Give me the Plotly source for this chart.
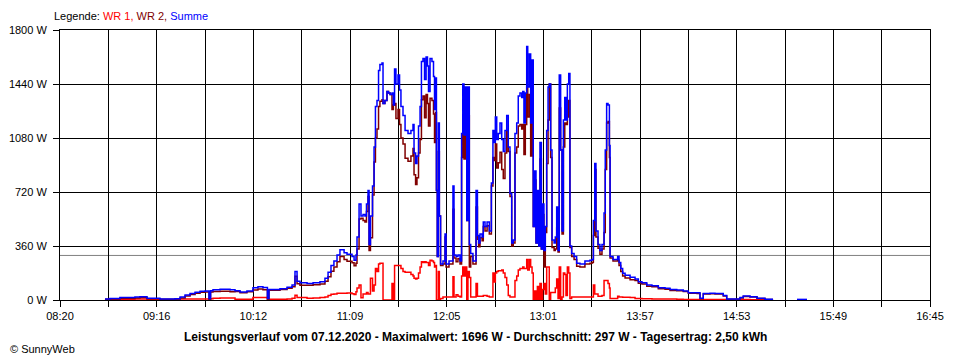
import plotly.graph_objects as go

# ---------------- data (times in minutes after midnight, 07.12.2020) ----------------
times = [
    526.1, 529.0, 534.8, 543.5, 546.4, 550.5, 558.0, 566.8, 569.7, 572.6,
    575.5, 578.4, 581.3, 584.2, 586.5, 587.4, 588.8, 592.9, 598.7, 601.6,
    604.5, 608.5, 612.0, 614.9, 617.8, 620.4, 621.3, 624.8, 627.7, 631.8,
    634.7, 636.4, 637.6, 639.3, 643.4, 646.9, 650.9, 653.8, 655.6, 657.3,
    659.0, 660.8, 662.5, 664.9, 666.6, 669.5, 670.7, 671.8, 672.4, 673.6,
    674.7, 675.9, 677.0, 677.9, 678.8, 679.4, 680.2, 681.4, 682.3, 683.1,
    684.0, 684.9, 685.7, 686.9, 687.5, 688.6, 689.8, 690.7, 691.6, 692.7,
    693.5, 694.2, 695.0, 696.2, 697.1, 697.9, 699.1, 700.3, 702.0, 703.7,
    704.9, 705.5, 706.4, 707.2, 708.1, 709.0, 709.8, 710.7, 711.6, 712.5,
    713.3, 713.9, 714.8, 715.9, 716.8, 717.4, 718.0, 718.5, 719.0, 719.6,
    720.2, 720.9, 722.3, 723.5, 724.1, 725.8, 728.1, 728.7, 729.9, 731.0,
    732.2, 733.1, 733.8, 734.5, 735.3, 736.1, 736.8, 737.6, 738.4, 739.7,
    741.5, 742.3, 743.0, 743.8, 745.0, 745.7, 746.7, 747.9, 749.2, 750.4,
    751.3, 751.9, 752.7, 753.5, 754.4, 755.4, 756.4, 757.3, 758.3, 759.3,
    760.2, 761.2, 762.2, 763.1, 764.1, 765.1, 766.0, 767.0, 768.0, 768.6,
    769.3, 770.1, 770.9, 771.5, 772.4, 773.2, 774.0, 774.7, 775.5, 776.3,
    777.1, 777.9, 778.6, 779.4, 780.1, 780.9, 781.7, 782.5, 783.3, 784.0,
    784.8, 785.6, 786.8, 787.5, 788.3, 789.1, 789.8, 790.6, 791.4, 792.2,
    793.0, 793.7, 794.5, 795.3, 796.0, 797.0, 798.4, 799.9, 801.8, 804.7,
    807.6, 808.8, 809.6, 810.4, 811.1, 812.3, 813.4, 814.6, 815.8, 816.5,
    817.3, 818.1, 818.9, 819.3, 821.0, 823.7, 824.5, 825.5, 826.6, 828.0,
    830.9, 833.8, 835.7, 837.8, 840.6, 843.6, 847.3, 851.2, 854.1, 858.0,
    861.8, 864.7, 869.8, 871.5, 873.4, 877.3, 880.2, 885.0, 887.0, 894.7,
    896.6, 900.5, 904.6, 909.2, 913.9, 916.0, 927.8, 933.6,
]

summe = [
    7, 10, 16, 20, 22, 12, 7, 8, 20, 33,
    44, 52, 58, 60, 8, 62, 68, 72, 68, 62,
    54, 60, 82, 89, 84, 10, 70, 70, 75, 85,
    100, 190, 125, 115, 110, 115, 122, 145, 185, 230,
    260, 300, 335, 315, 305, 290, 265, 300, 420, 640,
    560, 570, 560, 640, 730, 370, 560, 760, 1020, 1290,
    1330, 1530, 1570, 1580, 1310, 1330, 1390, 1380, 1370, 1380,
    1300, 1540, 1440, 1500, 1400, 1290, 1230, 1130, 1110, 1130,
    1170, 980, 910, 960, 1160, 1290, 1590, 1610, 1470, 1620,
    1560, 1390, 1610, 1590, 1490, 1270, 1480, 730, 290, 1180,
    560, 240, 260, 440, 240, 260, 760, 300, 290, 300,
    260, 1110, 1440, 1100, 1420, 530, 1420, 370, 310, 260,
    730, 430, 380, 440, 420, 520, 490, 520, 460, 780,
    1130, 1050, 1220, 1070, 1110, 1180, 1070, 990, 1130, 1230,
    1020, 710, 380, 400, 1110, 1180, 1360, 1380, 1350, 1390,
    1180, 1380, 1690, 1420, 1640, 1180, 1600, 490, 860, 380,
    730, 360, 1050, 340, 640, 330, 490, 1130, 1420, 1440,
    1000, 400, 380, 420, 620, 330, 1500, 1000, 460, 1200,
    1350, 1200, 1440, 1510, 360, 310, 290, 245, 240, 260,
    265, 270, 530, 910, 460, 370, 330, 370, 580, 1000,
    1310, 1300, 1030, 290, 270, 290, 250, 210, 178, 165,
    151, 140, 122, 115, 100, 95, 82, 78, 70, 67,
    60, 49, 48, 11, 44, 45, 44, 30, 7, 16,
    27, 22, 12, 5, 5, None, 4, 4,
]

wr2 = [
    5, 7, 11, 14, 16, 9, 5, 6, 14, 26,
    37, 45, 51, 53, 6, 54, 56, 59, 55, 57,
    49, 55, 66, 73, 68, 6, 65, 65, 70, 79,
    88, 159, 108, 99, 98, 101, 106, 125, 155, 192,
    220, 255, 290, 270, 258, 248, 228, 245, 340, 540,
    545, 530, 520, 590, 690, 330, 415, 700, 920, 1080,
    1140, 1290, 1325, 1335, 1310, 1330, 1390, 1380, 1370, 1270,
    1300, 1310, 1210, 1270, 1170, 1080, 1040, 945, 925, 960,
    1010, 835, 770, 815, 980, 1070, 1335, 1360, 1215, 1370,
    1310, 1160, 1345, 1330, 1240, 1050, 1250, 730, 290, 990,
    560, 230, 240, 420, 220, 240, 605, 280, 255, 275,
    240, 950, 1220, 940, 1200, 530, 1230, 220, 290, 240,
    620, 405, 355, 415, 395, 490, 460, 495, 440, 760,
    950, 930, 1040, 880, 915, 985, 870, 810, 980, 1130,
    990, 690, 360, 380, 980, 1020, 1160, 1170, 1140, 1170,
    970, 1170, 1420, 1220, 1370, 960, 1420, 490, 800, 380,
    640, 360, 940, 340, 570, 220, 450, 910, 1200, 1440,
    950, 350, 330, 340, 480, 320, 1280, 1000, 440, 1020,
    1180, 1170, 1220, 1330, 350, 290, 270, 225, 220, 240,
    245, 250, 430, 870, 420, 345, 305, 340, 450, 870,
    1180, 1190, 950, 280, 260, 265, 230, 190, 160, 147,
    135, 130, 112, 106, 92, 88, 75, 72, 64, 62,
    56, 45, 44, 9, 40, 41, 40, 27, 5, 13,
    24, 20, 10, 4, 4, None, None, None,
]

wr1 = [
    2, 3, 5, 6, 6, 3, 2, 2, 6, 7,
    7, 7, 7, 7, 2, 8, 12, 13, 13, 5,
    5, 5, 16, 16, 16, 4, 5, 5, 5, 6,
    12, 31, 17, 16, 12, 14, 16, 20, 30, 38,
    40, 45, 45, 45, 47, 42, 37, 55, 80, 100,
    15, 40, 40, 50, 40, 40, 145, 60, 100, 210,
    190, 240, 245, 245, 0, 0, 0, 0, 0, 110,
    0, 230, 230, 230, 230, 210, 190, 185, 185, 170,
    160, 145, 140, 145, 180, 220, 255, 250, 255, 250,
    250, 230, 265, 260, 250, 220, 230, 0, 0, 190,
    0, 10, 20, 20, 20, 20, 155, 20, 35, 25,
    20, 160, 220, 160, 220, 0, 190, 150, 20, 20,
    110, 25, 25, 25, 25, 30, 30, 25, 20, 20,
    180, 120, 180, 190, 195, 195, 200, 180, 150, 100,
    30, 20, 20, 20, 130, 160, 200, 210, 210, 220,
    210, 210, 270, 200, 270, 220, 180, 0, 60, 0,
    90, 0, 110, 0, 70, 110, 40, 220, 220, 0,
    50, 50, 50, 80, 140, 10, 220, 0, 20, 180,
    170, 30, 220, 180, 10, 20, 20, 20, 20, 20,
    20, 20, 100, 40, 40, 25, 25, 30, 130, 130,
    130, 110, 80, 10, 10, 25, 20, 20, 18, 18,
    16, 10, 10, 9, 8, 7, 7, 6, 6, 5,
    4, 4, 4, 2, 4, 4, 4, 3, 2, 3,
    3, 2, 2, 1, 1, None, None, None,
]

average_w = 297
y_ticks = [0, 360, 720, 1080, 1440, 1800]
y_tick_labels = ["0 W", "360 W", "720 W", "1080 W", "1440 W", "1800 W"]
x_tick_labels = ["08:20", "", "09:16", "", "10:12", "", "11:09", "", "12:05", "",
                 "13:01", "", "13:57", "", "14:53", "", "15:49", "", "16:45"]
x_start, x_end = 500, 1005  # 08:20 .. 16:45

legend_text = ("Legende: <span style='color:#FF0000'>WR 1,</span> "
               "<span style='color:#800000'>WR 2,</span> "
               "<span style='color:#0000FF'>Summe</span>")
title_text = ("Leistungsverlauf vom 07.12.2020 - Maximalwert: 1696 W - "
              "Durchschnitt: 297 W - Tagesertrag: 2,50 kWh")
copyright_text = "© SunnyWeb"

# ---------------- figure ----------------
FONT = "Liberation Sans, Arial, sans-serif"
n_int = len(x_tick_labels) - 1
x_tickvals = [x_start + k * (x_end - x_start) / n_int for k in range(n_int + 1)]

fig = go.Figure()
for name, vals, col in [("WR 1", wr1, "#FF0000"),
                        ("WR 2", wr2, "#800000"),
                        ("Summe", summe, "#0000FF")]:
    fig.add_trace(go.Scatter(
        x=times, y=vals, mode="lines", name=name,
        line=dict(color=col, width=1.5, shape="hv"),
        connectgaps=False, hoverinfo="skip",
    ))

fig.add_shape(type="line", xref="paper", x0=0, x1=1, yref="y",
              y0=average_w, y1=average_w,
              line=dict(color="#808080", width=1), layer="below")

axis_common = dict(
    showgrid=True, gridcolor="black", gridwidth=1,
    ticks="outside", ticklen=6, tickcolor="black", tickwidth=1,
    showline=True, linecolor="black", linewidth=1, mirror=True,
    zeroline=False, fixedrange=True,
    tickfont=dict(family=FONT, size=11, color="black"),
)

# the page body has an 8 px margin, so the figure starts at (8, 8)
fig.update_layout(
    width=952, height=352,
    margin=dict(l=52, r=30, t=22, b=60, autoexpand=False),
    paper_bgcolor="white", plot_bgcolor="white",
    showlegend=False,
    font=dict(family=FONT, size=11, color="black"),
    xaxis=dict(range=[x_start, x_end], tickmode="array",
               tickvals=x_tickvals, ticktext=x_tick_labels, **axis_common),
    yaxis=dict(range=[0, 1800], tickmode="array", ticklabelstandoff=4,
               tickvals=y_ticks, ticktext=y_tick_labels, **axis_common),
)

fig.add_annotation(text=legend_text, xref="paper", yref="paper",
                   x=0, y=1 + 13.5 / 270, xanchor="left", yanchor="middle",
                   xshift=-8, showarrow=False,
                   font=dict(family=FONT, size=11, color="black"))
fig.add_annotation(text="<b>" + title_text + "</b>", xref="paper", yref="paper",
                   x=(479.5 - 60) / 870, y=-36.5 / 270, xanchor="center",
                   yanchor="middle", xshift=-4, showarrow=False,
                   font=dict(family=FONT, size=12, color="black"))
fig.add_annotation(text=copyright_text, xref="paper", yref="paper",
                   x=(8 - 60) / 870, y=-49 / 270, xanchor="left",
                   yanchor="middle", showarrow=False,
                   font=dict(family=FONT, size=11, color="black"))

fig.write_html("out.html")
